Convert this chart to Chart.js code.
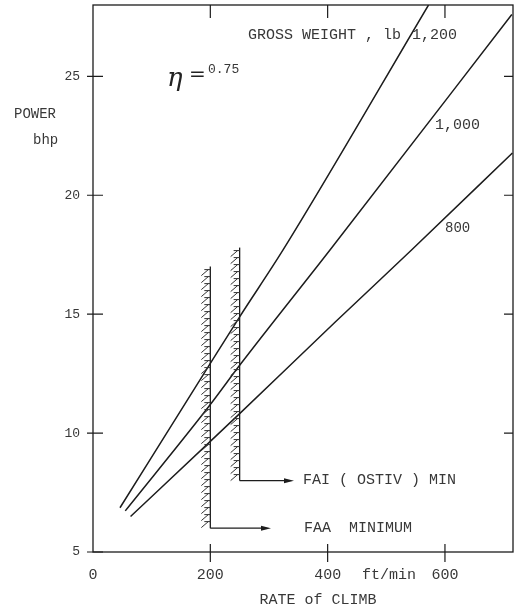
<!DOCTYPE html>
<html>
<head>
<meta charset="utf-8">
<script src="https://cdn.jsdelivr.net/npm/chart.js@4.4.1/dist/chart.umd.min.js"></script>
<style>
  html, body { margin: 0; padding: 0; background: #ffffff; }
  #wrap { width: 515px; height: 608px; }
</style>
</head>
<body>
<div id="wrap"><canvas id="c" width="515" height="608"></canvas></div>
<script>
// ---- data ----
const weightLabels = ['1,200', '1,000', '800'];
const rate1200 = [46, 200, 250, 324, 572];
const power1200 = [6.86, 12.93, 14.89, 17.7, 28.0];
const rate1000 = [55, 200, 250, 404, 714];
const power1000 = [6.73, 11.2, 12.85, 17.7, 27.6];
const rate800 = [64, 200, 250, 413, 543, 715];
const power800 = [6.49, 9.65, 10.82, 14.67, 17.7, 21.78];
const faaRate = [200, 200];
const faaPower = [6.0, 17.0];
const faiRate = [250, 250];
const faiPower = [8.0, 17.8];
const xTicks = [0, 200, 400, 600];
const yTicks = [5, 10, 15, 20, 25];

const pts = (xs, ys) => xs.map((x, i) => ({ x: x, y: ys[i] }));
const INK = '#1c1c1c';
const TXT = '#383838';
const MONO = '"Liberation Mono", "DejaVu Sans Mono", monospace';

const decor = {
  id: 'decor',
  afterDatasetsDraw(chart) {
    const ctx = chart.ctx;
    const xs = chart.scales.x, ys = chart.scales.y;
    const a = chart.chartArea;
    ctx.save();
    // frame
    ctx.strokeStyle = INK;
    ctx.lineWidth = 1.3;
    ctx.strokeRect(a.left, a.top, a.right - a.left, a.bottom - a.top);
    // ticks
    ctx.lineWidth = 1.2;
    ctx.beginPath();
    yTicks.forEach(v => {
      const py = ys.getPixelForValue(v);
      ctx.moveTo(a.left - 6, py); ctx.lineTo(a.left + 10, py);
      if (v > 5) { ctx.moveTo(a.right - 9, py); ctx.lineTo(a.right, py); }
    });
    xTicks.forEach(v => {
      if (v === 0) return;
      const px = xs.getPixelForValue(v);
      ctx.moveTo(px, a.bottom - 8); ctx.lineTo(px, a.bottom + 10);
      ctx.moveTo(px, a.top); ctx.lineTo(px, a.top + 13);
    });
    ctx.stroke();
    // hatching on the left of the minimum bars
    ctx.lineWidth = 1;
    ctx.strokeStyle = '#333';
    [[faaRate, faaPower], [faiRate, faiPower]].forEach(([r, p]) => {
      const px = xs.getPixelForValue(r[0]);
      const yTop = ys.getPixelForValue(p[1]);
      const yBot = ys.getPixelForValue(p[0]);
      ctx.beginPath();
      for (let y = yTop + 3; y < yBot - 1; y += 7) {
        ctx.moveTo(px - 9, y + 6);
        ctx.lineTo(px - 2, y);
        ctx.moveTo(px - 6, y);
        ctx.lineTo(px, y);
      }
      ctx.stroke();
    });
    // arrows
    ctx.strokeStyle = INK;
    ctx.fillStyle = INK;
    ctx.lineWidth = 1.2;
    const arrow = (x0, y0, x1) => {
      ctx.beginPath(); ctx.moveTo(x0, y0); ctx.lineTo(x1 - 6, y0); ctx.stroke();
      ctx.beginPath(); ctx.moveTo(x1, y0); ctx.lineTo(x1 - 10, y0 - 2.5); ctx.lineTo(x1 - 10, y0 + 2.5); ctx.closePath(); ctx.fill();
    };
    arrow(xs.getPixelForValue(faiRate[0]), ys.getPixelForValue(faiPower[0]), 294);
    arrow(xs.getPixelForValue(faaRate[0]), ys.getPixelForValue(faaPower[0]), 271);
    // texts
    ctx.fillStyle = TXT;
    ctx.textBaseline = 'middle';
    ctx.textAlign = 'left';
    ctx.font = '15px ' + MONO;
    ctx.fillText('GROSS WEIGHT , lb', 248, 35);
    ctx.fillText(weightLabels[0], 412, 35);
    ctx.fillText(weightLabels[1], 435, 125);
    ctx.font = '14px ' + MONO;
    ctx.fillText(weightLabels[2], 445, 228);
    ctx.font = '15px ' + MONO;
    ctx.fillText('FAI ( OSTIV ) MIN', 303, 480);
    ctx.fillText('FAA  MINIMUM', 304, 528);
    ctx.font = '14px ' + MONO;
    ctx.fillText('POWER', 14, 114);
    ctx.fillText('bhp', 33, 140);
    ctx.font = '15px ' + MONO;
    ctx.fillText('ft/min', 362, 575);
    ctx.textAlign = 'center';
    ctx.fillText('RATE of CLIMB', 318, 600);
    ctx.textAlign = 'left';
    ctx.font = 'italic 26px "DejaVu Serif", serif';
    ctx.fillStyle = '#222';
    ctx.fillText('\u03b7', 167, 79);
    ctx.font = '20px "DejaVu Sans", sans-serif';
    ctx.fillText('=', 189, 75);
    ctx.font = '13px ' + MONO;
    ctx.fillStyle = TXT;
    ctx.fillText('0.75', 208, 70);
    ctx.restore();
  }
};

const lineDs = (data) => ({
  data: data, showLine: true, borderColor: INK, borderWidth: 1.5,
  pointRadius: 0, tension: 0, fill: false
});

new Chart(document.getElementById('c'), {
  type: 'scatter',
  data: {
    datasets: [
      Object.assign(lineDs(pts(rate1200, power1200)), { label: weightLabels[0], cubicInterpolationMode: 'monotone' }),
      Object.assign(lineDs(pts(rate1000, power1000)), { label: weightLabels[1], cubicInterpolationMode: 'monotone' }),
      Object.assign(lineDs(pts(rate800, power800)), { label: weightLabels[2], cubicInterpolationMode: 'monotone' }),
      Object.assign(lineDs(pts(faaRate, faaPower)), { label: 'FAA MINIMUM', borderWidth: 1.3 }),
      Object.assign(lineDs(pts(faiRate, faiPower)), { label: 'FAI (OSTIV) MIN', borderWidth: 1.3 })
    ]
  },
  options: {
    responsive: false,
    animation: false,
    devicePixelRatio: 1,
    layout: { padding: { top: 5, right: 2, left: 0, bottom: 0 } },
    plugins: { legend: { display: false }, tooltip: { enabled: false } },
    scales: {
      x: {
        type: 'linear', min: 0, max: 716,
        grid: { display: false, drawTicks: false },
        border: { display: false },
        afterBuildTicks: (s) => { s.ticks = xTicks.map(v => ({ value: v })); },
        ticks: {
          includeBounds: false, maxRotation: 0, autoSkip: false, padding: 14,
          color: TXT, font: { family: MONO, size: 15 },
          callback: (v) => String(v)
        },
        afterFit: (s) => { s.height = 56; s.paddingLeft = 0; s.paddingRight = 0; }
      },
      y: {
        type: 'linear', min: 5, max: 28,
        grid: { display: false, drawTicks: false },
        border: { display: false },
        afterBuildTicks: (s) => { s.ticks = yTicks.map(v => ({ value: v })); },
        ticks: {
          includeBounds: false, autoSkip: false, padding: 13,
          color: TXT, font: { family: MONO, size: 13 },
          callback: (v) => String(v)
        },
        afterFit: (s) => { s.width = 93; s.paddingTop = 0; s.paddingBottom = 0; }
      }
    }
  },
  plugins: [decor]
});
</script>
</body>
</html>
